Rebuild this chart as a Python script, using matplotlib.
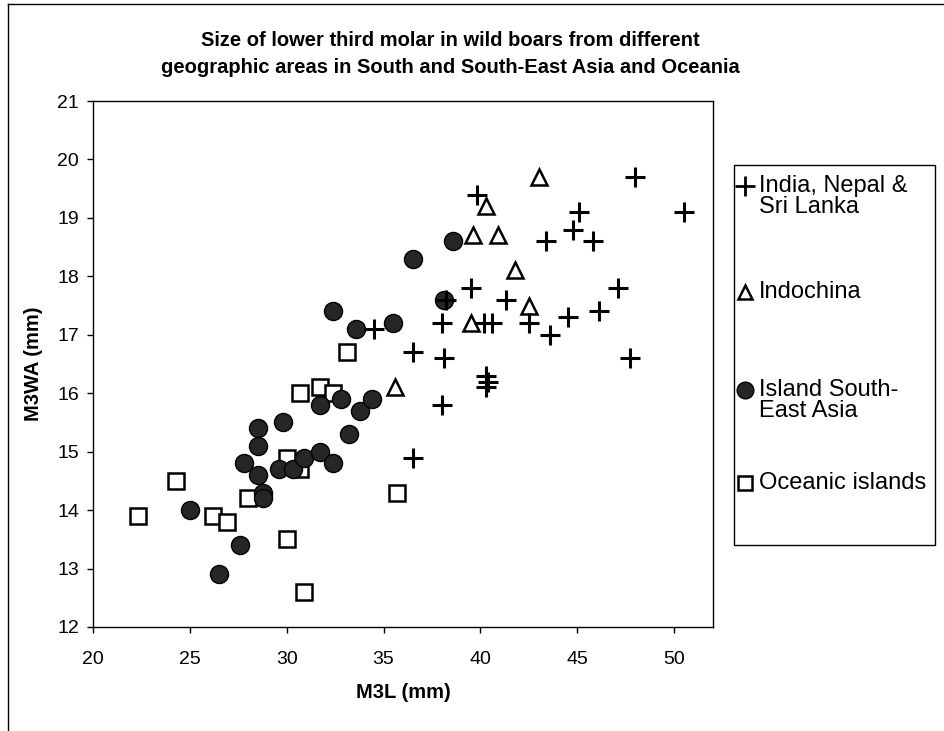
import matplotlib
matplotlib.use("Agg")
import matplotlib.pyplot as plt
from matplotlib.lines import Line2D
import matplotlib.patches as mpatches

plt.rcParams['font.family'] = ['Liberation Sans', 'DejaVu Sans']

# ─────────────────────────────────────────
# DATA  (M3L mm, M3WA mm)
# ─────────────────────────────────────────
india_x = [34.5, 36.5, 36.5, 38.0, 38.1, 38.0, 38.2, 39.5, 39.8, 40.2, 40.6,
           40.3, 40.4, 40.3, 41.3, 42.5, 43.4, 43.6, 44.5, 44.8, 45.1, 45.8,
           46.1, 47.1, 47.7, 48.0, 50.5]
india_y = [17.1, 16.7, 14.9, 15.8, 16.6, 17.2, 17.6, 17.8, 19.4, 17.2, 17.2,
           16.3, 16.2, 16.1, 17.6, 17.2, 18.6, 17.0, 17.3, 18.8, 19.1, 18.6,
           17.4, 17.8, 16.6, 19.7, 19.1]

indochina_x = [35.6, 39.5, 39.6, 40.3, 40.9, 41.8, 42.5, 43.0]
indochina_y = [16.1, 17.2, 18.7, 19.2, 18.7, 18.1, 17.5, 19.7]

island_x = [25.0, 26.5, 27.6, 27.8, 28.5, 28.5, 28.5, 28.8, 28.8, 29.6, 29.8,
            30.3, 30.9, 31.7, 31.7, 32.4, 32.4, 32.8, 33.2, 33.6, 33.8, 34.4,
            35.5, 36.5, 38.1, 38.6]
island_y = [14.0, 12.9, 13.4, 14.8, 15.4, 15.1, 14.6, 14.3, 14.2, 14.7, 15.5,
            14.7, 14.9, 15.0, 15.8, 14.8, 17.4, 15.9, 15.3, 17.1, 15.7, 15.9,
            17.2, 18.3, 17.6, 18.6]

oceanic_x = [22.3, 24.3, 26.2, 26.9, 28.0, 30.0, 30.7, 30.0, 30.9, 30.7,
             31.7, 32.4, 33.1, 35.7]
oceanic_y = [13.9, 14.5, 13.9, 13.8, 14.2, 14.9, 14.7, 13.5, 12.6, 16.0,
             16.1, 16.0, 16.7, 14.3]

labels = ["India, Nepal &\nSri Lanka", "Indochina",
          "Island South-\nEast Asia", "Oceanic islands"]

# ─────────────────────────────────────────
# PLOT
# ─────────────────────────────────────────
fig = plt.figure(figsize=(9.45, 7.31), dpi=100)
ax = fig.add_axes([0.0984, 0.1423, 0.656, 0.7195])

ax.plot(oceanic_x, oceanic_y, ls='none', marker='s', ms=11.5,
        mfc='white', mec='black', mew=1.8, zorder=3)
ax.plot(island_x, island_y, ls='none', marker='o', ms=13,
        mfc='#262626', mec='black', mew=1.0, zorder=4)
ax.plot(indochina_x, indochina_y, ls='none', marker='^', ms=11,
        mfc='white', mec='black', mew=1.8, zorder=5)
ax.plot(india_x, india_y, ls='none', marker='+', ms=15,
        mec='black', mew=2.2, zorder=6)

ax.set_xlim(20, 52)
ax.set_ylim(12, 21)
ax.set_xticks(range(20, 51, 5))
ax.set_yticks(range(12, 22))
ax.tick_params(direction='out', length=4, width=1, labelsize=14)
ax.tick_params(axis='x', pad=13)
ax.tick_params(axis='y', pad=6)
for s in ax.spines.values():
    s.set_linewidth(1.0)
    s.set_color('black')

ax.set_xlabel("M3L (mm)", fontsize=14.5, fontweight='bold', labelpad=11)
ax.set_ylabel("M3WA (mm)", fontsize=14.5, fontweight='bold', labelpad=10)

fig.text(0.477, 0.926,
         "Size of lower third molar in wild boars from different\n"
         "geographic areas in South and South-East Asia and Oceania",
         ha='center', va='center', fontsize=14.5, fontweight='bold',
         linespacing=1.55)

# legend: frame plus hand-placed entries (Excel-style uneven spacing)
fig.patches.append(mpatches.Rectangle((0.7767, 0.254), 0.2127, 0.5199,
                                      transform=fig.transFigure,
                                      fill=False, ec='black', lw=1.0))
handle_styles = [
    dict(marker='+', ms=14, mec='black', mew=2.0),
    dict(marker='^', ms=10, mfc='white', mec='black', mew=1.8),
    dict(marker='o', ms=12, mfc='#262626', mec='black'),
    dict(marker='s', ms=10.5, mfc='white', mec='black', mew=1.8),
]
entry_y = [0.731, 0.600, 0.452, 0.339]    # text block centres (fig fraction)
marker_y = [0.746, 0.600, 0.467, 0.339]   # marker sits on first text line
for style, lab, ty, my in zip(handle_styles, labels, entry_y, marker_y):
    fig.add_artist(Line2D([0.7885], [my], transform=fig.transFigure,
                          ls='none', **style))
    fig.text(0.803, ty, lab, ha='left', va='center', fontsize=17,
             linespacing=0.95)

# outer chart border (top and left)
fig.add_artist(Line2D([0.008, 1.0], [0.995, 0.995], transform=fig.transFigure,
                      color='black', lw=1.0))
fig.add_artist(Line2D([0.008, 0.008], [0.0, 0.995], transform=fig.transFigure,
                      color='black', lw=1.0))

plt.savefig("out.png", dpi=100)
